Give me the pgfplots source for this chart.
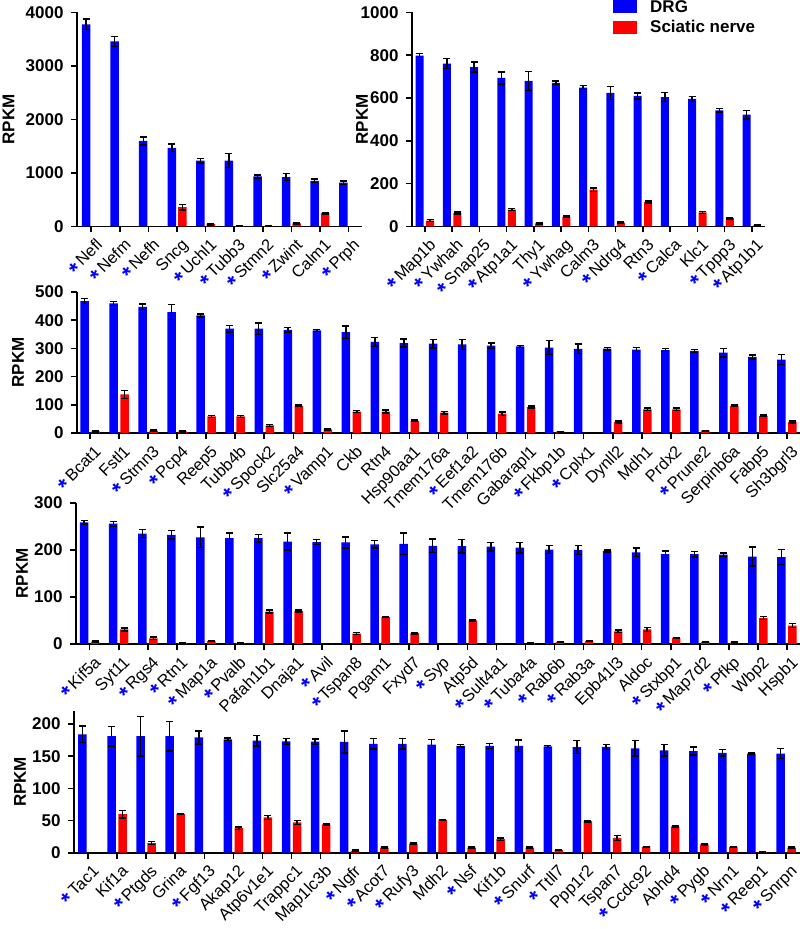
\documentclass[border=0pt]{standalone}
\usepackage{pgfplots}
\pgfplotsset{compat=1.18}
\usepackage{pgfplotstable}
\usepackage{fontspec}
\setmainfont{Liberation Sans}
\definecolor{dblue}{RGB}{0,0,255}
\definecolor{sred}{RGB}{255,0,0}
\newcommand{\st}{{\color{dblue}\bfseries\raisebox{-0.6ex}{\scalebox{1.35}{*}}}\,}

\pgfplotstableread{
x d de s se
0 3780 100 0 0
1 3460 95 0 0
2 1600 75 0 0
3 1470 70 360 50
4 1230 40 45 15
5 1230 130 5 3
6 935 25 5 3
7 925 60 60 12
8 855 30 250 15
9 820 30 0 0
}\tA
\pgfplotstableread{
x d de s se
0 799 10 28 4
1 761 23 63 4
2 745 23 0 0
3 694 28 79 5
4 680 45 15 3
5 671 8 45 4
6 649 10 172 8
7 624 30 18 3
8 610 14 114 5
9 605 22 0 0
10 596 12 66 5
11 543 8 39 4
12 523 20 5 2
}\tB
\pgfplotstableread{
x d de s se
0 468 8 6 2
1 460 7 137 14
2 447 10 8 2
3 429 27 6 2
4 417 5 59 4
5 370 12 59 4
6 370 20 27 3
7 366 8 96 3
8 364 4 13 3
9 358 22 76 4
10 323 16 76 5
11 319 14 43 3
12 317 15 72 5
13 314 17 0 0
14 310 9 69 6
15 307 4 92 4
16 303 25 5 1
17 298 17 1 0
18 299 4 39 3
19 296 7 84 5
20 294 6 84 4
21 291 6 8 1
22 285 15 96 3
23 270 7 61 3
24 260 18 39 3
}\tC
\pgfplotstableread{
x d de s se
0 259 4 5 1
1 256 5 31 3
2 235 9 12 3
3 232 9 2 1
4 227 22 6 1
5 225 11 2 1
6 225 8 69 3
7 218 18 70 2
8 217 5 1 0
9 216 12 22 2
10 212 8 57 1
11 213 23 23 2
12 209 14 0 0
13 208 14 50 1
14 207 9 0 0
15 205 11 2 0
16 201 8 4 1
17 200 9 6 1
18 198 2 27 3
19 195 9 31 4
20 191 7 13 1
21 191 6 4 1
22 190 4 3 1
23 186 20 55 3
24 185 16 39 4
}\tD
\pgfplotstableread{
x d de s se
0 184 13 0 0
1 181 15 60 6
2 181 31 15 2
3 181 23 60 1
4 179 10 0 0
5 176 2 38 2
6 174 8 55 3
7 173 4 47 3
8 172.5 4 44 1
9 172 17 3 1
10 169 8 8 1
11 169 8 14 1
12 168 8 51 1
13 166 2 8 1
14 166 4 21 2
15 166 9 8 1
16 165 2 4 1
17 164 10 49 1
18 164.5 4 23 4
19 162 12 9 1
20 159 9 41 1
21 158 6 13 1
22 155 5 9 1
23 154 1 1 0
24 154 8 8 1
}\tE

\pgfplotsset{
  myax/.style={
    scale only axis, anchor=south west,
    ybar, ymin=0, enlargelimits=false,
    axis lines=left, axis line style={-, line width=1.6pt, black},
    tick align=outside, major tick length=6pt,
    tick style={black, line width=1.6pt},
    minor tick num=0,
    y tick label style={font=\fontsize{17}{20}\selectfont\bfseries, xshift=-4pt},
    /pgf/number format/assume math mode=true,
    /pgf/number format/1000 sep={},
    x tick label style={font=\fontsize{16.5}{18}\selectfont, rotate=45, anchor=base east, inner sep=0pt, yshift=-18pt, xshift=-1pt},
    ylabel={RPKM},
    ylabel style={font=\fontsize{17}{20}\selectfont\bfseries, anchor=center},
    error bars/y dir=both, error bars/y explicit,
    error bars/error bar style={black, line width=1.4pt},
    error bars/error mark options={rotate=90, mark size=3.5pt, line width=1.4pt, black},
  },
  blu/.style={fill=dblue, draw=none, bar width=#1},
  rd/.style={fill=sred, draw=none, bar width=#1},
}

\begin{document}
\begin{tikzpicture}
\useasboundingbox (0,0) rectangle (800pt,929pt);

% Panel 1
\begin{axis}[myax, at={(77pt,702.5pt)}, width=285pt, height=214pt,
  xmin=-0.5, xmax=9.47, ymax=4000, ytick={0,1000,...,4000},
  xtick={0,...,9},
  xticklabels={{\st Nefl},{\st Nefm},{\st Nefh},{Sncg},{\st Uchl1},{\st Tubb3},{\st Stmn2},{\st Zwint},{Calm1},{\st Prph}},
  ylabel style={at={(axis description cs:-0.240,0.5)}}]
\addplot[blu=8.5pt, bar shift=-5.25pt] table[x=x, y=d, y error=de]{\tA};
\addplot[rd=8.5pt, bar shift=5.25pt] table[x=x, y=s, y error=se]{\tA};
\end{axis}

% Panel 2
\begin{axis}[myax, at={(412pt,702.5pt)}, width=353pt, height=214pt,
  xmin=-0.47, xmax=12.48, ymax=1000, ytick={0,200,...,1000},
  xtick={0,...,12},
  xticklabels={{\st Map1b},{\st Ywhah},{\st Snap25},{\st Atp1a1},{Thy1},{\st Ywhag},{Calm3},{\st Ndrg4},{Rtn3},{\st Calca},{Klc1},{\st Tppp3},{\st Atp1b1}},
  ylabel style={at={(axis description cs:-0.1416,0.5)}},
  legend style={draw=none, fill=none, at={(axis description cs:0.5694,1.058)}, anchor=north west,
    inner sep=0pt, row sep=7pt, font=\fontsize{17}{20}\selectfont\bfseries,
    nodes={inner sep=0pt}, /tikz/every odd column/.style={column sep=13pt}},
  legend cell align=left,
  legend image code/.code={\path[#1, draw=none] (0pt,-6.5pt) rectangle (24pt,6.5pt);}]
\addplot[blu=8pt, bar shift=-5.25pt] table[x=x, y=d, y error=de]{\tB};
\addlegendentry{DRG}
\addplot[rd=8pt, bar shift=5.25pt] table[x=x, y=s, y error=se]{\tB};
\addlegendentry{Sciatic nerve}
\end{axis}

% Panel 3
\begin{axis}[myax, at={(77pt,496pt)}, width=723pt, height=141pt,
  xmin=-0.45, xmax=24.45, ymax=500, ytick={0,100,...,500},
  xtick={0,...,24},
  xticklabels={{\st Bcat1},{Fstl1},{\st Stmn3},{\st Pcp4},{Reep5},{Tubb4b},{\st Spock2},{Slc25a4},{\st Vamp1},{Ckb},{Rtn4},{Hsp90aa1},{Tmem176a},{\st Eef1a2},{Tmem176b},{Gabarapl1},{\st Fkbp1b},{\st Cplx1},{Dynll2},{Mdh1},{Prdx2},{\st Prune2},{Serpinb6a},{Fabp5},{Sh3bgrl3}},
  ylabel style={at={(axis description cs:-0.0816,0.5)}}]
\addplot[blu=8.5pt, bar shift=-5.5pt] table[x=x, y=d, y error=de]{\tC};
\addplot[rd=8.5pt, bar shift=5.5pt] table[x=x, y=s, y error=se]{\tC};
\end{axis}

% Panel 4
\begin{axis}[myax, at={(76pt,285pt)}, width=724pt, height=141pt,
  xmin=-0.47, xmax=24.45, ymax=300, ytick={0,100,...,300},
  xtick={0,...,24},
  xticklabels={{\st Kif5a},{Syt11},{\st Rgs4},{\st Rtn1},{\st Map1a},{\st Pvalb},{Pafah1b1},{Dnaja1},{\st Avil},{\st Tspan8},{Pgam1},{Fxyd7},{\st Syp},{Atp5d},{\st Sult4a1},{\st Tuba4a},{\st Rab6b},{\st Rab3a},{Epb41l3},{Aldoc},{\st Stxbp1},{\st Map7d2},{\st Pfkp},{Wbp2},{Hspb1}},
  ylabel style={at={(axis description cs:-0.0746,0.5)}}]
\addplot[blu=8.5pt, bar shift=-5.5pt] table[x=x, y=d, y error=de]{\tD};
\addplot[rd=8.5pt, bar shift=5.5pt] table[x=x, y=s, y error=se]{\tD};
\end{axis}

% Panel 5
\begin{axis}[myax, at={(74pt,76.3pt)}, width=726pt, height=141.6pt,
  xmin=-0.48, xmax=24.48, ymax=220, ytick={0,50,...,200},
  xtick={0,...,24},
  xticklabels={{\st Tac1},{Kif1a},{\st Ptgds},{Grina},{\st Fgf13},{Akap12},{Atp6v1e1},{Trappc1},{Map1lc3b},{\st Ngfr},{\st Acot7},{\st Rufy3},{Mdh2},{\st Nsf},{Kif1b},{\st Snurf},{\st Ttll7},{Ppp1r2},{Tspan7},{\st Ccdc92},{Abhd4},{\st Pygb},{\st Nrn1},{\st Reep1},{\st Snrpn}},
  ylabel style={at={(axis description cs:-0.0744,0.5)}}]
\addplot[blu=8.5pt, bar shift=-5.5pt] table[x=x, y=d, y error=de]{\tE};
\addplot[rd=8.5pt, bar shift=5.5pt] table[x=x, y=s, y error=se]{\tE};
\end{axis}
\end{tikzpicture}
\end{document}
